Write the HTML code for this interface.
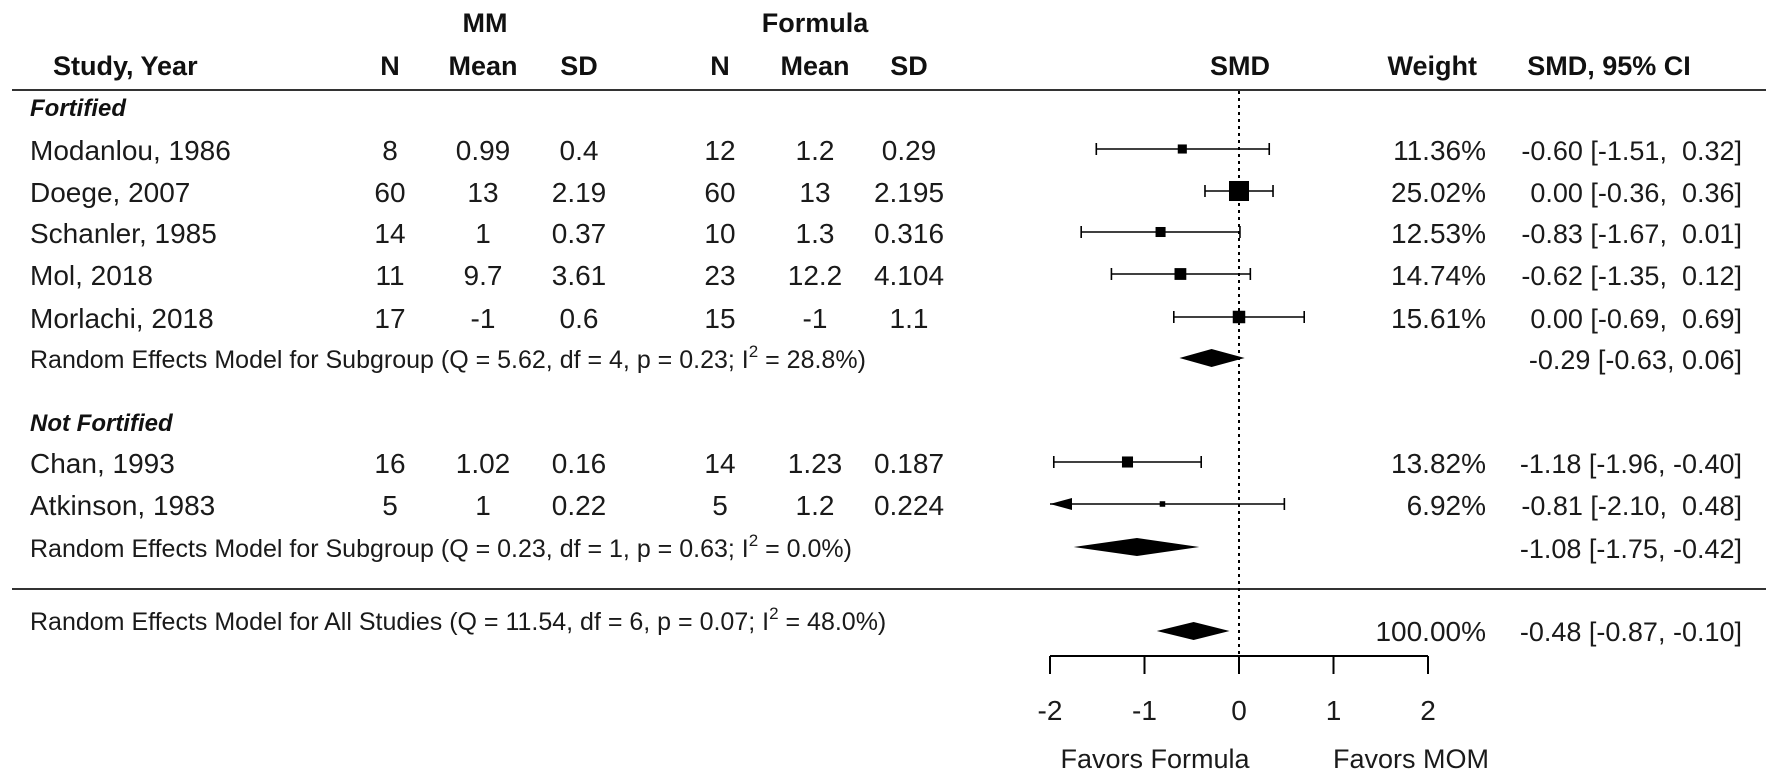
<!DOCTYPE html>
<html><head><meta charset="utf-8"><style>
html,body{margin:0;padding:0;background:#fff;}
svg{display:block;font-family:"Liberation Sans",Arial,sans-serif;}
.h{font-weight:bold;font-size:27px;fill:#111;}
.g{font-weight:bold;font-size:24px;fill:#111;}
.t{font-size:28px;fill:#1a1a1a;white-space:pre;}
.c{font-size:27px;fill:#1a1a1a;white-space:pre;}
.s{font-size:25px;fill:#1a1a1a;}
</style></head><body>
<svg id="chart" width="1772" height="782" viewBox="0 0 1772 782" xmlns="http://www.w3.org/2000/svg" xml:space="preserve">
<g>
<text class="h" x="485" y="32" text-anchor="middle">MM</text>
<text class="h" x="815" y="32" text-anchor="middle">Formula</text>
<text class="h" x="53" y="75">Study, Year</text>
<text class="h" x="390" y="75" text-anchor="middle">N</text>
<text class="h" x="483" y="75" text-anchor="middle">Mean</text>
<text class="h" x="579" y="75" text-anchor="middle">SD</text>
<text class="h" x="720" y="75" text-anchor="middle">N</text>
<text class="h" x="815" y="75" text-anchor="middle">Mean</text>
<text class="h" x="909" y="75" text-anchor="middle">SD</text>
<text class="h" x="1240" y="75" text-anchor="middle">SMD</text>
<text class="h" x="1477" y="75" text-anchor="end">Weight</text>
<text class="h" x="1609" y="75" text-anchor="middle">SMD, 95% CI</text>
</g>
<line x1="12" y1="90" x2="1766" y2="90" stroke="#333" stroke-width="2"/>
<line x1="12" y1="589" x2="1766" y2="589" stroke="#333" stroke-width="2"/>
<line x1="1239" y1="91" x2="1239" y2="656" stroke="#000" stroke-width="2" stroke-dasharray="3,4"/>
<text class="g" x="30" y="116" font-style="italic">Fortified</text>
<text class="g" x="30" y="431" font-style="italic">Not Fortified</text>
<g id="rows"></g>
<g id="axis"></g>
<text class="t" x="1155" y="768" text-anchor="middle" style="font-size:27px">Favors Formula</text>
<text class="t" x="1411" y="768" text-anchor="middle" style="font-size:27px">Favors MOM</text>
</svg>
<script>
const studies=["Modanlou, 1986","Doege, 2007","Schanler, 1985","Mol, 2018","Morlachi, 2018","Chan, 1993","Atkinson, 1983"];
const mmN=["8","60","14","11","17","16","5"];
const mmMean=["0.99","13","1","9.7","-1","1.02","1"];
const mmSD=["0.4","2.19","0.37","3.61","0.6","0.16","0.22"];
const fN=["12","60","10","23","15","14","5"];
const fMean=["1.2","13","1.3","12.2","-1","1.23","1.2"];
const fSD=["0.29","2.195","0.316","4.104","1.1","0.187","0.224"];
const est=[-0.60,0.00,-0.83,-0.62,0.00,-1.18,-0.81];
const lo=[-1.51,-0.36,-1.67,-1.35,-0.69,-1.96,-2.10];
const hi=[0.32,0.36,0.01,0.12,0.69,-0.40,0.48];
const weights=[11.36,25.02,12.53,14.74,15.61,13.82,6.92];
const rowY=[149,191,232,274,317,462,504];
const sumLabels=["Random Effects Model for Subgroup (Q = 5.62, df = 4, p = 0.23; I|= 28.8%)","Random Effects Model for Subgroup (Q = 0.23, df = 1, p = 0.63; I|= 0.0%)","Random Effects Model for All Studies (Q = 11.54, df = 6, p = 0.07; I|= 48.0%)"];
const sumEst=[-0.29,-1.08,-0.48];
const sumLo=[-0.63,-1.75,-0.87];
const sumHi=[0.06,-0.42,-0.10];
const sumY=[358,547,631];
const ticks=[-2,-1,0,1,2];
const NS="http://www.w3.org/2000/svg";
const xs=v=>1239+v*94.5;
const XMIN=-2,XMAX=2;
const f2=v=>(v<0?"-":"\u2007")+Math.abs(v).toFixed(2);
function mk(tag,attrs,parent,txt){const e=document.createElementNS(NS,tag);for(const k in attrs)e.setAttribute(k,attrs[k]);if(txt!==undefined)e.textContent=txt;parent.appendChild(e);return e;}
const rows=document.getElementById('rows');
const cols=[[mmN,390],[mmMean,483],[mmSD,579],[fN,720],[fMean,815],[fSD,909]];
studies.forEach((s,i)=>{
  const g=mk('g',{},rows);
  
  
  const y=rowY[i];
  mk('text',{class:'t',x:30,y:y+11},g,s);
  cols.forEach(c=>mk('text',{class:'t',x:c[1],y:y+11,'text-anchor':'middle'},g,c[0][i]));
  const l=Math.max(lo[i],XMIN),h=Math.min(hi[i],XMAX);
  const ci=mk('line',{x1:xs(l),y1:y,x2:xs(h),y2:y,stroke:'#000','stroke-width':1.6},g);
  
  
  if(lo[i]>=XMIN) mk('line',{x1:xs(lo[i]),y1:y-6,x2:xs(lo[i]),y2:y+6,stroke:'#000','stroke-width':1.6},g);
  else{const a=mk('polygon',{points:`${xs(XMIN)},${y} ${xs(XMIN)+22},${y-6} ${xs(XMIN)+22},${y+6}`,fill:'#000'},g);
    
    }
  if(hi[i]<=XMAX) mk('line',{x1:xs(hi[i]),y1:y-6,x2:xs(hi[i]),y2:y+6,stroke:'#000','stroke-width':1.6},g);
  const sz=Math.max(5,weights[i]*0.8);
  const sq=mk('rect',{x:xs(est[i])-sz/2,y:y-sz/2,width:sz,height:sz,fill:'#000'},g);
  
  
  mk('text',{class:'t',x:1486,y:y+11,'text-anchor':'end'},g,weights[i].toFixed(2)+"%");
  mk('text',{class:'c',x:1742,y:y+11,'text-anchor':'end'},g,`${f2(est[i])} [${lo[i].toFixed(2)}, ${hi[i]<0?"-":" "}${Math.abs(hi[i]).toFixed(2)}]`);
});
sumLabels.forEach((s,i)=>{
  const g=mk('g',{},rows);
  
  
  const y=sumY[i];
  const ty=i===2?y-1:y+10;
  const parts=s.split('|');
  const t=mk('text',{class:'s',x:30,y:ty},g);
  mk('tspan',{},t,parts[0]);
  mk('tspan',{dy:-11,'font-size':17},t,'2');
  mk('tspan',{dy:11},t,' '+parts[1]);
  const d=mk('polygon',{points:`${xs(sumLo[i])},${y} ${xs(sumEst[i])},${y-9} ${xs(sumHi[i])},${y} ${xs(sumEst[i])},${y+9}`,fill:'#000'},g);
  
  
  const vy=i===2?y+10:y+11;
  if(i===2) mk('text',{class:'t',x:1486,y:vy,'text-anchor':'end'},g,"100.00%");
  mk('text',{class:'c',x:1742,y:vy,'text-anchor':'end'},g,`${sumEst[i].toFixed(2)} [${sumLo[i].toFixed(2)}, ${sumHi[i].toFixed(2)}]`);
});
const ax=document.getElementById('axis');


mk('line',{x1:xs(XMIN),y1:656,x2:xs(XMAX),y2:656,stroke:'#000','stroke-width':2},ax);
ticks.forEach(v=>{
  mk('line',{x1:xs(v),y1:656,x2:xs(v),y2:674,stroke:'#000','stroke-width':2},ax);
  const tl=mk('text',{class:'t',x:xs(v),y:720,'text-anchor':'middle'},ax,String(v));
  
  
});
</script>
</body></html>
